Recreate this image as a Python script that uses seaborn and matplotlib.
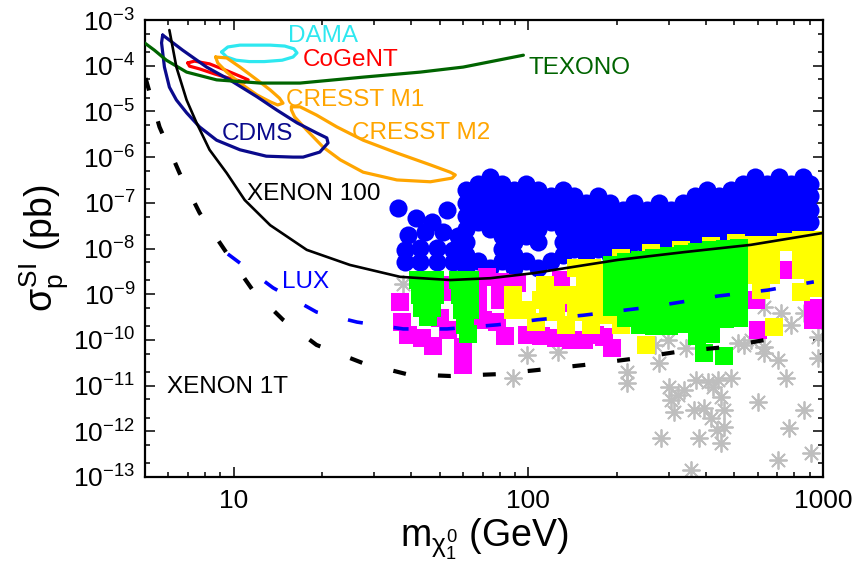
import numpy as np
import matplotlib
matplotlib.use("Agg")
import matplotlib.pyplot as plt
import seaborn as sns
from matplotlib.ticker import (LogLocator, FixedLocator, FixedFormatter,
                               NullFormatter, LogFormatterMathtext)

# ---------------- data (mass in GeV, log10 of sigma in pb) ----------------
# Exclusion / signal contours
dama_mass = [9.10, 9.55, 10.5, 11.8, 13.3, 14.9, 16.0, 16.4, 15.9, 14.6, 12.7, 11.3, 10.2, 9.47, 9.10]
dama_logsig = [-3.70, -3.59, -3.55, -3.55, -3.55, -3.57, -3.63, -3.72, -3.81, -3.88, -3.91, -3.91, -3.88, -3.81, -3.70]

cogent_mass = [6.98, 7.36, 8.28, 9.32, 10.5, 11.2, 10.9, 9.85, 8.61, 7.66, 7.08, 6.98]
cogent_logsig = [-3.94, -3.90, -3.96, -4.09, -4.23, -4.31, -4.36, -4.29, -4.18, -4.07, -4.01, -3.94]

cresst1_mass = [8.68, 9.47, 10.5, 12.0, 13.3, 14.3, 14.7, 14.1, 13.3, 12.0, 10.5, 9.47, 8.83, 8.68]
cresst1_logsig = [-3.81, -3.83, -4.03, -4.31, -4.53, -4.71, -4.82, -4.86, -4.79, -4.64, -4.38, -4.14, -3.94, -3.81]

cresst2_mass = [15.7, 16.8, 19.1, 22.4, 27.5, 35.8, 46.5, 54.3, 56.5, 55.1, 46.5, 35.8, 27.5, 23.0, 20.1, 17.7, 16.1, 15.7, 15.7]
cresst2_logsig = [-4.90, -4.90, -5.08, -5.34, -5.63, -5.91, -6.17, -6.33, -6.39, -6.46, -6.54, -6.50, -6.33, -6.06, -5.78, -5.41, -5.12, -4.97, -4.90]

cdms_mass = [5.74, 5.69, 5.82, 6.05, 6.39, 6.92, 7.66, 8.75, 10.5, 12.9, 15.9, 17.2, 19.6, 20.9, 20.7, 19.1, 16.4, 14.0, 12.0, 9.69, 8.09, 6.71, 6.05, 5.74]
cdms_logsig = [-3.33, -3.50, -4.03, -4.47, -4.75, -5.03, -5.34, -5.63, -5.84, -5.98, -6.00, -6.00, -5.89, -5.69, -5.58, -5.47, -5.25, -4.97, -4.68, -4.31, -4.03, -3.66, -3.44, -3.33]

texono_mass = [4.98, 5.38, 5.91, 6.92, 8.75, 12.3, 16.8, 27.5, 43.0, 60.1, 96.2]
texono_logsig = [-3.50, -3.66, -3.88, -4.14, -4.31, -4.38, -4.38, -4.25, -4.14, -4.03, -3.77]

xenon100_mass = [6.05, 6.39, 6.92, 7.48, 8.28, 9.47, 10.9, 13.3, 17.7, 24.8, 36.7, 54.3, 74.3, 104, 201, 337, 569, 1000]
xenon100_logsig = [-3.22, -4.03, -4.75, -5.25, -5.84, -6.35, -6.94, -7.49, -8.03, -8.36, -8.62, -8.69, -8.65, -8.54, -8.25, -8.08, -7.92, -7.66]

lux_mass = [9.55, 13.6, 19.1, 26.2, 37.6, 53.0, 78.5, 107, 154, 260, 440, 650, 931]
lux_logsig = [-8.12, -8.86, -9.39, -9.61, -9.76, -9.76, -9.67, -9.56, -9.46, -9.28, -9.04, -8.91, -8.73]

xenon1t_mass = [5.02, 5.60, 6.55, 7.66, 9.47, 11.6, 14.7, 19.1, 27.5, 38.7, 54.3, 78.5, 107, 154, 222, 321, 460, 692]
xenon1t_logsig = [-4.27, -5.34, -6.35, -7.22, -8.10, -8.91, -9.56, -10.11, -10.51, -10.75, -10.79, -10.75, -10.66, -10.55, -10.42, -10.26, -10.16, -9.96]

# Model points: blue circles (left cluster, then columns)
blue_mass = [36.1, 41.6, 53.0, 47.2, 39.1, 44.6, 51.4, 57.8, 38.2, 42.9, 49.0, 55.6, 38.2, 42.9, 49.0, 55.6]
blue_logsig = [-7.11, -7.33, -7.16, -7.42, -7.70, -7.64, -7.64, -7.73, -8.03, -7.99, -7.99, -8.03, -8.29, -8.29, -8.29, -8.29]
blue_col_mass = [61.5, 67.6, 74.3, 81.6, 89.6, 98.4, 108, 119, 131, 143, 157, 173, 190, 209, 229,
                 252, 277, 304, 334, 367, 403, 443, 486, 534, 587, 645, 708, 778, 855, 904]
blue_col_logsig = [
    [-6.72, -7.00, -7.29, -7.57, -7.86, -8.14, -8.43],
    [-6.58, -6.86, -7.15, -7.43, -8.28],
    [-6.44, -6.72, -7.00, -7.29, -7.57, -8.43],
    [-6.58, -6.86, -7.15, -7.43, -7.72, -8.00, -8.28],
    [-6.72, -7.00, -7.29, -7.57, -7.86, -8.14, -8.43],
    [-6.58, -6.86, -7.15, -7.43, -7.72, -8.28],
    [-6.72, -7.00, -7.29, -7.57, -7.86, -8.43],
    [-6.86, -7.15, -7.43, -8.28],
    [-6.72, -7.00, -7.29, -7.57, -7.86, -8.14],
    [-6.86, -7.15, -7.43, -7.72, -8.00],
    [-7.00, -7.29, -7.57, -7.86, -8.14],
    [-6.86, -7.15, -7.43, -7.72, -8.00],
    [-7.00, -7.29, -7.57, -7.86, -8.14],
    [-7.15, -7.43, -7.72, -8.00],
    [-7.00, -7.29, -7.57, -7.86],
    [-7.15, -7.43, -7.72, -8.00],
    [-7.00, -7.29, -7.57, -7.86],
    [-7.15, -7.43, -7.72, -8.00],
    [-7.00, -7.29, -7.57, -7.86],
    [-6.86, -7.15, -7.43, -7.72],
    [-6.72, -7.00, -7.29, -7.57, -7.86],
    [-6.86, -7.15, -7.43, -7.72],
    [-6.72, -7.00, -7.29, -7.57, -7.86],
    [-6.58, -6.86, -7.15, -7.43, -7.72],
    [-6.44, -6.72, -7.00, -7.29, -7.57],
    [-6.58, -6.86, -7.15, -7.43, -7.72],
    [-6.44, -6.72, -7.00, -7.29, -7.57],
    [-6.58, -6.86, -7.15, -7.43, -7.72],
    [-6.44, -6.72, -7.00, -7.29, -7.57],
    [-6.58, -6.86, -7.15, -7.43],
]

# Magenta squares
magenta_mass = [36.7, 37.3, 39.1, 43.6, 47.5, 50.2, 53.4, 53.0, 53.0, 60.1, 60.1, 67.6, 67.6, 70.3,
                78.5, 83.5, 80.3, 80.3, 91.7, 99.2, 110, 124, 129, 140, 155, 180, 193, 169,
                592, 601, 748, 925, 925, 129, 72.5]
magenta_logsig = [-9.17, -9.61, -9.89, -9.96, -10.13, -9.52, -9.78, -8.80, -8.95, -10.16, -10.55, -8.91, -9.24, -9.56,
                  -9.61, -9.91, -8.73, -9.13, -8.76, -9.89, -9.91, -9.96, -9.19, -10.00, -10.00, -9.94, -10.18, -9.89,
                  -9.13, -9.78, -8.47, -9.30, -9.56, -8.69, -8.62]

# Yellow squares
yellow_mass = [88.9, 99.2, 106, 114, 124, 139, 156, 145, 163, 145, 165, 173, 176, 176, 183, 206, 250, 110, 124,
               547, 592, 665, 748, 842, 932, 592, 665, 925, 842, 592, 665, 842, 925, 615, 842, 925, 681,
               206, 260, 329, 416, 506,
               88.9, 156, 163, 134, 117]
yellow_logsig = [-9.02, -9.35, -9.61, -8.80, -9.02, -9.02, -9.13, -9.39, -9.39, -8.43, -8.43, -8.47, -8.80, -9.13, -9.46, -9.67, -10.11, -9.13, -9.35,
                 -7.92, -7.92, -7.92, -7.86, -7.81, -7.81, -8.25, -8.21, -8.14, -8.16, -8.58, -8.58, -8.47, -8.52, -8.91, -8.95, -8.86, -9.72,
                 -8.21, -8.10, -8.03, -7.95, -7.88,
                 -9.35, -8.80, -9.67, -9.67, -9.39]

# Green squares (two narrow columns + extras, then the main block by columns)
green_mass = [42.3, 48.3, 42.9, 48.3, 43.6, 47.2, 45.7, 57.8, 63.5, 58.7, 63.5, 59.6, 63.5, 61.1, 62.5, 394, 461]
green_logsig = [-8.69, -8.69, -9.02, -9.02, -9.30, -9.30, -9.50, -8.69, -8.69, -9.02, -9.02, -9.35, -9.35, -9.67, -9.87, -10.29, -10.35]
green_col_mass = [193, 215, 240, 268, 299, 334, 373, 416, 464, 518]
green_col_logsig = [
    [-8.36, -8.67, -8.97, -9.28],
    [-8.29, -8.60, -8.91, -9.22, -9.52],
    [-8.25, -8.56, -8.86, -9.17, -9.48, -9.67],
    [-8.21, -8.52, -8.82, -9.13, -9.43, -9.70],
    [-8.16, -8.47, -8.78, -9.08, -9.39, -9.70],
    [-8.12, -8.43, -8.73, -9.04, -9.35, -9.65],
    [-8.08, -8.38, -8.69, -9.00, -9.30, -9.61, -9.91],
    [-8.03, -8.34, -8.65, -8.95, -9.26, -9.56, -9.87],
    [-8.01, -8.32, -8.62, -8.93, -9.24, -9.54],
    [-7.99, -8.29, -8.60, -8.91, -9.22, -9.52],
]

# Gray asterisks
gray_mass = [37.6, 88.9, 99.2, 126, 217, 217, 277, 281, 297, 299, 304, 311, 321, 337, 364, 370, 379, 394,
             406, 416, 423, 436, 440, 450, 450, 461, 461, 487, 356, 514, 569, 601, 630, 630, 703, 720,
             748, 703, 766, 778, 862, 911, 962, 962, 862, 984, 539, 630, 270, 342]
gray_logsig = [-8.78, -10.83, -10.33, -10.26, -10.70, -10.94, -10.51, -12.15, -10.00, -11.03, -11.32, -11.58, -11.21, -11.10, -11.53, -10.88, -12.15, -11.49,
               -10.92, -11.71, -11.03, -11.97, -10.88, -11.25, -12.26, -11.91, -11.53, -10.83, -12.85, -10.07, -10.00, -11.36, -10.16, -9.28, -10.44, -9.41,
               -10.83, -12.63, -11.93, -9.67, -11.53, -12.48, -10.40, -9.94, -9.41, -9.56, -10.11, -10.29, -10.11, -10.18]

# Labels: (text, mass at left edge, log10 sigma at baseline, colour)
label_text = ["DAMA", "CoGeNT", "TEXONO", "CRESST M1", "CRESST M2", "CDMS", "XENON 100", "LUX", "XENON 1T"]
label_mass = [15.3, 17.2, 100, 15.1, 25.2, 9.10, 11.1, 14.6, 5.96]
label_logsig = [-3.48, -4.01, -4.18, -4.88, -5.60, -5.63, -6.94, -8.86, -11.16]
label_color = ["#2ee8f0", "#ff0000", "#006400", "#ffa500", "#ffa500", "#0a0a8c", "#000000", "#0000ff", "#000000"]

x_tick_values = [10, 100, 1000]
x_tick_labels = ["10", "100", "1000"]

# ---------------- styling ----------------
sns.set_theme(style="ticks")
plt.rcParams['font.family'] = ['Liberation Sans', 'DejaVu Sans']
plt.rcParams['mathtext.fontset'] = 'custom'
plt.rcParams['mathtext.rm'] = 'Liberation Sans'
plt.rcParams['mathtext.it'] = 'Liberation Sans'
plt.rcParams['mathtext.bf'] = 'Liberation Sans:bold'
plt.rcParams['axes.linewidth'] = 1.6
for key in ['text.color', 'axes.labelcolor', 'xtick.color', 'ytick.color',
            'xtick.labelcolor', 'ytick.labelcolor', 'axes.edgecolor']:
    plt.rcParams[key] = 'black'

fig = plt.figure(figsize=(8.61, 5.70), dpi=100)
ax = fig.add_axes([145 / 861, 1 - 477 / 570, 678 / 861, 457 / 570])
ax.set_xscale('log')
ax.set_yscale('log')


def pw(v):
    return np.power(10.0, np.asarray(v, dtype=float))


def flat(col_mass, col_logsig):
    xs, ys = [], []
    for m, col in zip(col_mass, col_logsig):
        for s in col:
            xs.append(m)
            ys.append(s)
    return xs, ys


bx, by = flat(blue_col_mass, blue_col_logsig)
bx = blue_mass + bx
by = blue_logsig + by
gx, gy = flat(green_col_mass, green_col_logsig)
gx = green_mass + gx
gy = green_logsig + gy

sns.scatterplot(x=bx, y=pw(by), marker='o', s=170, color='#0000ff', linewidth=0, ax=ax, zorder=2, legend=False)
sns.scatterplot(x=gray_mass, y=pw(gray_logsig), marker=(8, 2, 0), s=150, color='#bebebe', linewidth=1.3,
                ax=ax, zorder=2.1, legend=False)
sq = 160
sns.scatterplot(x=magenta_mass, y=pw(magenta_logsig), marker='s', s=sq, color='#ff00ff', linewidth=0, ax=ax, zorder=2.2, legend=False)
sns.scatterplot(x=yellow_mass, y=pw(yellow_logsig), marker='s', s=sq, color='#ffff00', linewidth=0, ax=ax, zorder=2.3, legend=False)
sns.scatterplot(x=gx, y=pw(gy), marker='s', s=sq, color='#00ff00', linewidth=0, ax=ax, zorder=2.4, legend=False)


def line(m, s, color, lw, ls='-'):
    sns.lineplot(x=m, y=pw(s), sort=False, estimator=None, color=color, linewidth=lw,
                 linestyle=ls, ax=ax, zorder=5, legend=False)


line(dama_mass, dama_logsig, '#2ee8f0', 2.3)
line(cogent_mass, cogent_logsig, '#ff0000', 2.3)
line(cresst1_mass, cresst1_logsig, '#ffa500', 2.3)
line(cresst2_mass, cresst2_logsig, '#ffa500', 2.3)
line(cdms_mass, cdms_logsig, '#0a0a8c', 2.3)
line(texono_mass, texono_logsig, '#006400', 2.3)
line(xenon100_mass, xenon100_logsig, '#000000', 1.9)
line(lux_mass, lux_logsig, '#0000ff', 2.6, (0, (4.2, 8.6)))
line(xenon1t_mass, xenon1t_logsig, '#000000', 3.0, (0, (3.1, 7.7)))

for t, m, s, c in zip(label_text, label_mass, label_logsig, label_color):
    ax.text(m, 10 ** s, t, color=c, fontsize=17.5, ha='left', va='baseline', zorder=6)

ax.set_xlim(5, 1000)
ax.set_ylim(1e-13, 1e-3)
ax.xaxis.set_major_locator(FixedLocator(x_tick_values))
ax.xaxis.set_major_formatter(FixedFormatter(x_tick_labels))
ax.xaxis.set_minor_locator(LogLocator(base=10, subs=np.arange(2, 10), numticks=30))
ax.xaxis.set_minor_formatter(NullFormatter())
ax.yaxis.set_major_locator(LogLocator(base=10, numticks=30))
ax.yaxis.set_major_formatter(LogFormatterMathtext())
ax.yaxis.set_minor_locator(LogLocator(base=10, subs=(2, 5), numticks=30))
ax.yaxis.set_minor_formatter(NullFormatter())
ax.tick_params(which='both', direction='in', top=True, right=True, color='black', width=1.1)
ax.tick_params(which='major', length=7, labelsize=19, labelcolor='black')
ax.tick_params(axis='x', which='major', pad=9)
ax.tick_params(axis='y', which='major', pad=7)
ax.tick_params(which='minor', length=3.5)
for sp in ax.spines.values():
    sp.set_color('black')
    sp.set_linewidth(1.6)

ax.set_xlabel(r'$m_{\chi^0_1}$ (GeV)', fontsize=27, labelpad=2, color='black')
ax.set_ylabel(r'$\sigma_{\rm p}^{\rm SI}$ (pb)', fontsize=27, labelpad=2, color='black')

fig.savefig('out.png', dpi=100)
